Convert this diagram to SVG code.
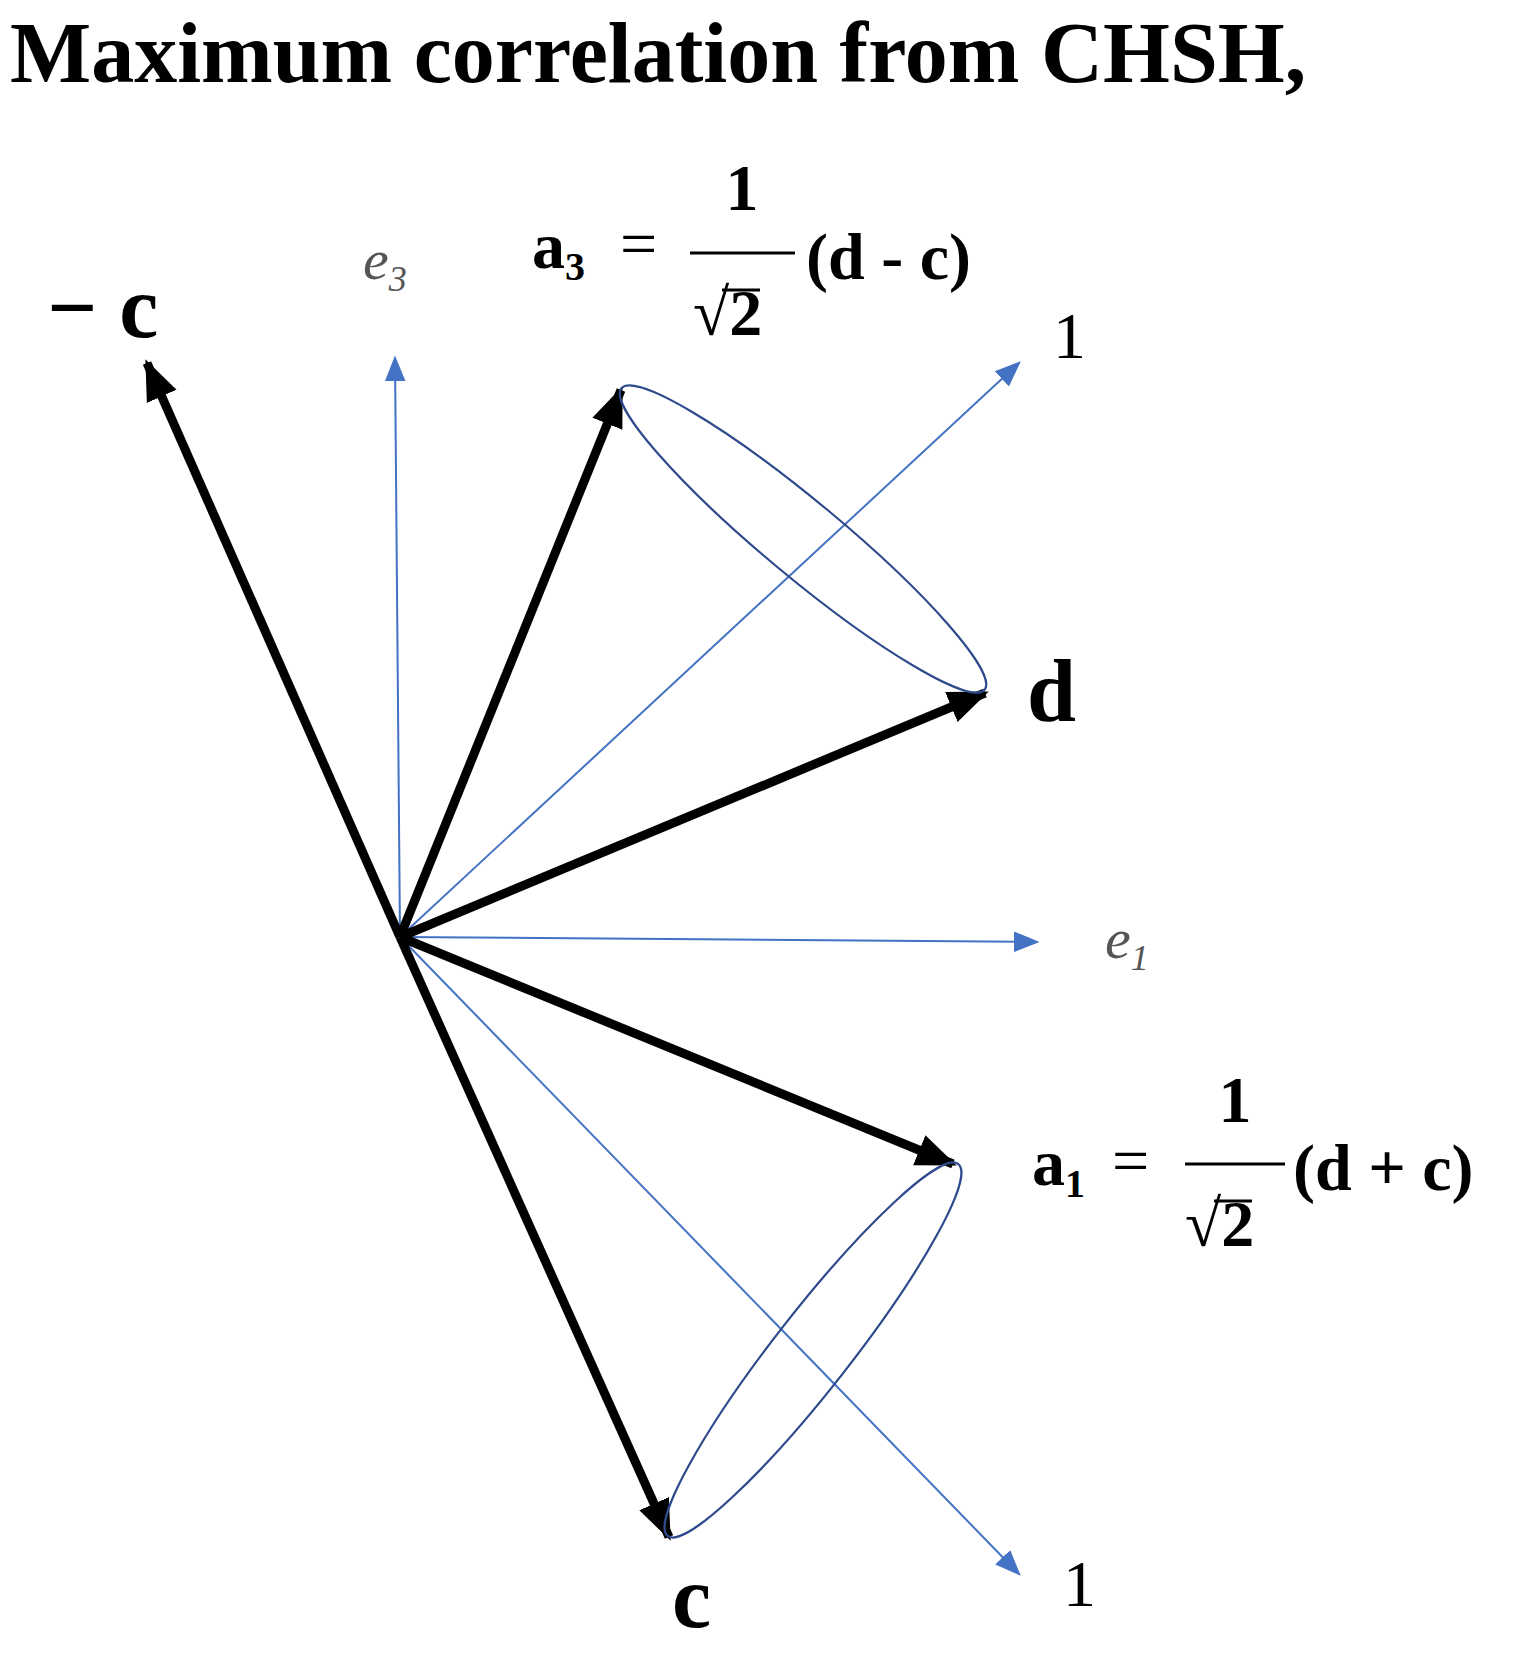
<svg xmlns="http://www.w3.org/2000/svg" width="1523" height="1653" viewBox="0 0 1523 1653">
<style>
.bl{stroke:#000;stroke-width:9;fill:none}
.bu{stroke:#4472c4;stroke-width:2;fill:none}
.el{stroke:#2e4a8c;stroke-width:2.2;fill:none}
.t{font-family:"Liberation Serif",serif;font-weight:bold;fill:#000}
.it{font-family:"Liberation Serif",serif;font-style:italic;fill:#555}
.n{font-family:"Liberation Serif",serif;fill:#000}
</style>
<defs>
<marker id="ab" viewBox="0 0 10 10" refX="9" refY="5" markerWidth="4.5" markerHeight="4.5" orient="auto" markerUnits="strokeWidth"><path d="M0,1L10,5L0,9z" fill="#000"/></marker>
<marker id="au" viewBox="0 0 10 10" refX="9" refY="5" markerWidth="13" markerHeight="13" orient="auto" markerUnits="strokeWidth"><path d="M0,1L10,5L0,9z" fill="#4472c4"/></marker>
</defs>
<rect width="1523" height="1653" fill="#fff"/>
<text x="10" y="82" class="t" font-size="86">Maximum correlation from CHSH,</text>
<g id="connectors">
<line class="bu" x1="400" y1="937" x2="395" y2="358" marker-end="url(#au)"/>
<line class="bu" x1="400" y1="937" x2="1019" y2="363" marker-end="url(#au)"/>
<line class="bu" x1="400" y1="937" x2="1037" y2="942" marker-end="url(#au)"/>
<line class="bu" x1="400" y1="937" x2="1019" y2="1574" marker-end="url(#au)"/>
<line class="bl" x1="400" y1="937" x2="147" y2="363" marker-end="url(#ab)"/>
<line class="bl" x1="400" y1="937" x2="621" y2="390" marker-end="url(#ab)"/>
<line class="bl" x1="400" y1="937" x2="985" y2="693" marker-end="url(#ab)"/>
<line class="bl" x1="400" y1="937" x2="953" y2="1164" marker-end="url(#ab)"/>
<line class="bl" x1="400" y1="937" x2="669" y2="1537" marker-end="url(#ab)"/>
</g>
<g id="cone-top"><ellipse class="el" cx="803" cy="539" rx="236" ry="38" transform="rotate(39.7 803 539)"/></g>
<g id="cone-bottom"><ellipse class="el" cx="813" cy="1350" rx="236" ry="38" transform="rotate(-52 813 1350)"/></g>
<g id="label-mc"><text x="47" y="337" class="t" font-size="88">− c</text></g>
<g id="label-e3"><text x="363" y="279" class="it" font-size="58">e<tspan font-size="36" dy="12">3</tspan></text></g>
<g id="label-a3">
<text x="532" y="268" class="t" font-size="66">a<tspan font-size="40" dy="12">3</tspan></text>
<text x="620" y="266" class="n" font-size="66">=</text>
<text x="742" y="210" class="t" font-size="66" text-anchor="middle">1</text>
<line x1="690" y1="253" x2="795" y2="253" stroke="#000" stroke-width="3"/>
<text x="693" y="335" class="t" font-size="66">√2</text>
<line x1="722" y1="290" x2="760" y2="290" stroke="#000" stroke-width="3"/>
<text x="806" y="279" class="t" font-size="66">(d - c)</text>
</g>
<g id="label-1top"><text x="1053" y="358" class="n" font-size="66">1</text></g>
<g id="label-d"><text x="1027" y="721" class="t" font-size="88">d</text></g>
<g id="label-e1"><text x="1105" y="958" class="it" font-size="58">e<tspan font-size="36" dy="12">1</tspan></text></g>
<g id="label-a1">
<text x="1032" y="1185" class="t" font-size="66">a<tspan font-size="40" dy="12">1</tspan></text>
<text x="1112" y="1183" class="n" font-size="66">=</text>
<text x="1235" y="1122" class="t" font-size="66" text-anchor="middle">1</text>
<line x1="1185" y1="1164" x2="1285" y2="1164" stroke="#000" stroke-width="3"/>
<text x="1185" y="1246" class="t" font-size="66">√2</text>
<line x1="1214" y1="1201" x2="1252" y2="1201" stroke="#000" stroke-width="3"/>
<text x="1293" y="1190" class="t" font-size="66">(d + c)</text>
</g>
<g id="label-1bot"><text x="1063" y="1606" class="n" font-size="66">1</text></g>
<g id="label-c"><text x="672" y="1627" class="t" font-size="88">c</text></g>
</svg>
